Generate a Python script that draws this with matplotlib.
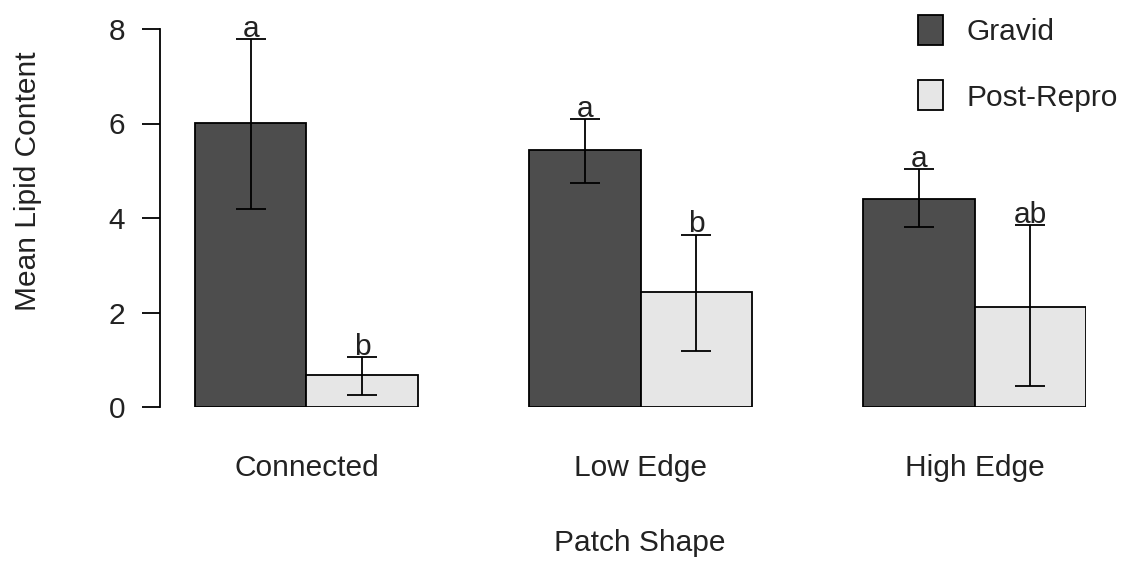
import matplotlib
matplotlib.use('Agg')
import matplotlib.pyplot as plt
from matplotlib.patches import Patch
import numpy as np

plt.rcParams['font.family'] = ['Liberation Sans', 'DejaVu Sans']

shapes = ['Connected', 'Low Edge', 'High Edge']
groups = ['Gravid', 'Post-Repro']
gravid_mean = [6.02, 5.43, 4.40]
gravid_lo = [4.19, 4.75, 3.82]
gravid_hi = [7.79, 6.10, 5.04]
post_mean = [0.68, 2.43, 2.12]
post_lo = [0.25, 1.19, 0.44]
post_hi = [1.06, 3.65, 3.85]
gravid_letters = ['a', 'a', 'a']
post_letters = ['b', 'b', 'ab']

COLORS = ['#4d4d4d', '#e6e6e6']
TXT = '#222222'
FS = 21.5
W, H = 1133, 565

fig = plt.figure(figsize=(W / 100, H / 100), dpi=100)
# axes box in pixels: y spine at x=160, last bar ends at 1086, y=0 at 407, y=8 at 29
ax = fig.add_axes([160 / W, 1 - 407 / H, (1086 - 160) / W, (407 - 29) / H])

unit = (1086 - 195) / 8
x0 = -(195 - 160) / unit
ax.set_xlim(x0, 8)
ax.set_ylim(0, 8)

left = np.arange(len(shapes)) * 3
for off, means, lo, hi, letters, col in [
        (0, gravid_mean, gravid_lo, gravid_hi, gravid_letters, COLORS[0]),
        (1, post_mean, post_lo, post_hi, post_letters, COLORS[1])]:
    xc = left + off + 0.5
    ax.bar(xc, means, width=1, color=col, edgecolor='black', linewidth=1.3)
    means = np.array(means)
    yerr = [means - np.array(lo), np.array(hi) - means]
    ax.errorbar(xc, means, yerr=yerr, fmt='none', ecolor='black',
                elinewidth=1.3, capsize=11, capthick=1.3)
    for x, top, s in zip(xc, hi, letters):
        ax.annotate(s, (x, top), xytext=(0, 1.5), textcoords='offset points',
                    ha='center', va='baseline', fontsize=FS, color=TXT,
                    annotation_clip=False)

for side in ['top', 'right', 'bottom']:
    ax.spines[side].set_visible(False)
ax.spines['left'].set_bounds(0, 8)
ax.spines['left'].set_linewidth(1.3)
ax.set_yticks([0, 2, 4, 6, 8])
ax.tick_params(axis='y', length=13, width=1.3, pad=12, labelsize=FS,
               labelcolor=TXT)
ax.set_xticks(left + 1)
ax.set_xticklabels(shapes)
ax.tick_params(axis='x', length=0, pad=34, labelsize=FS, labelcolor=TXT)

fig.text(28 / W, 1 - 181 / H, 'Mean Lipid Content', rotation=90,
         ha='center', va='center', fontsize=FS, color=TXT)
fig.text(640 / W, 1 - 543 / H, 'Patch Shape', ha='center', va='center',
         fontsize=FS, color=TXT)

handles = [Patch(facecolor=c, edgecolor='black', linewidth=1.3) for c in COLORS]
fig.legend(handles, groups, loc='upper left', bbox_to_anchor=(918 / W, 1 - 15 / H),
           bbox_transform=fig.transFigure, frameon=False, fontsize=FS,
           handlelength=0.84, handleheight=1.17, handletextpad=0.8,
           labelspacing=1.15, borderpad=0, borderaxespad=0, labelcolor=TXT)

fig.savefig('out.png', dpi=100, facecolor='white')
